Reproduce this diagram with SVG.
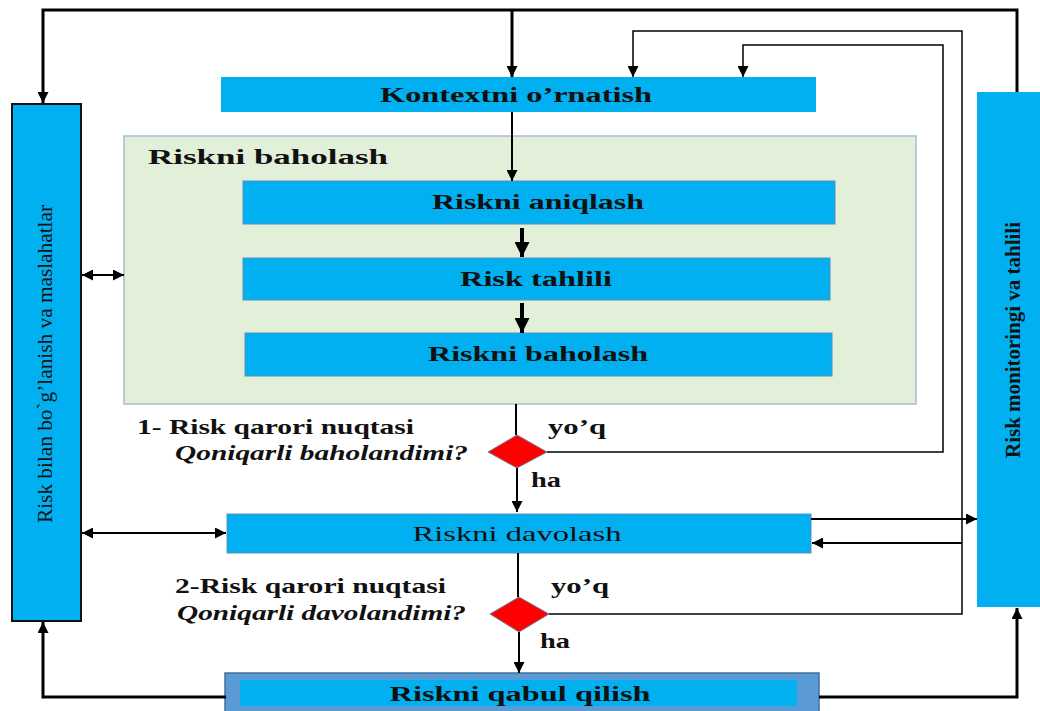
<svg xmlns="http://www.w3.org/2000/svg" width="1040" height="711" viewBox="0 0 1040 711">
  <defs>
    <marker id="ah" viewBox="0 0 10 10" refX="10" refY="5" markerWidth="11" markerHeight="11" markerUnits="userSpaceOnUse" orient="auto-start-reverse">
      <path d="M0,0 L10,5 L0,10 z" fill="#000"/>
    </marker>
    <marker id="ahb" viewBox="0 0 10 10" refX="10" refY="5" markerWidth="15" markerHeight="15" markerUnits="userSpaceOnUse" orient="auto">
      <path d="M0,0 L10,5 L0,10 z" fill="#000"/>
    </marker>
  </defs>
  <style>
    .box{fill:#00b0f0;stroke:#5b8fbf;stroke-width:1}
    .t{font-family:"Liberation Serif","Times New Roman",serif;font-size:22px;font-weight:bold;fill:#111}
    .r{font-weight:normal}
    .it{font-style:italic}
    .m{text-anchor:middle}
    .ln{fill:none;stroke:#000;stroke-width:2}
    .thk{fill:none;stroke:#000;stroke-width:3}
    .thn{fill:none;stroke:#000;stroke-width:1.5}
    .dia{fill:#ff0000;stroke:#6f7f9f;stroke-width:1}
  </style>
  <rect width="1040" height="711" fill="#fff"/>

  <!-- communication and consultation -->
  <g id="communication">
    <rect x="12" y="104" width="69" height="517" fill="#00b0f0" stroke="#111" stroke-width="2"/>
    <text class="t r" font-size="20" text-anchor="middle" transform="translate(52,364) rotate(-90)" textLength="318" lengthAdjust="spacingAndGlyphs">Risk bilan bo`g’lanish va maslahatlar</text>
  </g>

  <!-- monitoring and review -->
  <g id="monitoring">
    <rect x="977" y="92" width="63" height="515" fill="#00b0f0"/>
    <text class="t" font-size="19" text-anchor="middle" transform="translate(1020,340) rotate(-90)" textLength="236" lengthAdjust="spacingAndGlyphs">Risk monitoringi va tahlili</text>
  </g>

  <!-- establishing context -->
  <g id="context">
    <rect x="221" y="77" width="595" height="35" fill="#00b0f0"/>
    <text class="t m" x="516" y="102" textLength="272" lengthAdjust="spacingAndGlyphs">Kontextni o’rnatish</text>
  </g>

  <!-- risk assessment container -->
  <g id="assessment">
    <rect x="124" y="136" width="792" height="268" fill="#e2efd9" stroke="#a9bccf" stroke-width="1.5"/>
    <text class="t" x="148" y="164" textLength="240" lengthAdjust="spacingAndGlyphs">Riskni baholash</text>
  </g>
  <g id="identification">
    <rect class="box" x="243" y="181" width="592" height="43"/>
    <text class="t m" x="538" y="209" textLength="212" lengthAdjust="spacingAndGlyphs">Riskni aniqlash</text>
  </g>
  <g id="analysis">
    <rect class="box" x="243" y="258" width="587" height="42"/>
    <text class="t m" x="536" y="286" textLength="152" lengthAdjust="spacingAndGlyphs">Risk tahlili</text>
  </g>
  <g id="evaluation">
    <rect class="box" x="245" y="333" width="587" height="43"/>
    <text class="t m" x="538" y="361" textLength="220" lengthAdjust="spacingAndGlyphs">Riskni baholash</text>
  </g>

  <!-- decision point 1 -->
  <g id="decision1">
    <polygon class="dia" points="517,435 547,452 517,468 488,452"/>
    <text class="t" font-size="20" x="137" y="434" textLength="277" lengthAdjust="spacingAndGlyphs">1- Risk qarori nuqtasi</text>
    <text class="t it" font-size="20" x="175" y="460" textLength="293" lengthAdjust="spacingAndGlyphs">Qoniqarli baholandimi?</text>
    <text class="t" font-size="20" x="548" y="434" textLength="58" lengthAdjust="spacingAndGlyphs">yo’q</text>
    <text class="t" font-size="20" x="531" y="487" textLength="30" lengthAdjust="spacingAndGlyphs">ha</text>
  </g>

  <!-- risk treatment -->
  <g id="treatment">
    <rect class="box" x="227" y="514" width="584" height="39"/>
    <text class="t r m" x="517" y="541" textLength="209" lengthAdjust="spacingAndGlyphs">Riskni davolash</text>
  </g>

  <!-- decision point 2 -->
  <g id="decision2">
    <polygon class="dia" points="519,597 549,614 519,632 490,614"/>
    <text class="t" font-size="20" x="175" y="593" textLength="271" lengthAdjust="spacingAndGlyphs">2-Risk qarori nuqtasi</text>
    <text class="t it" font-size="20" x="177" y="620" textLength="289" lengthAdjust="spacingAndGlyphs">Qoniqarli davolandimi?</text>
    <text class="t" font-size="20" x="551" y="593" textLength="58" lengthAdjust="spacingAndGlyphs">yo’q</text>
    <text class="t" font-size="20" x="540" y="648" textLength="30" lengthAdjust="spacingAndGlyphs">ha</text>
  </g>

  <!-- risk acceptance -->
  <g id="acceptance">
    <rect x="225" y="673" width="594" height="40" fill="#5b9bd5" stroke="#41719c" stroke-width="1.5"/>
    <rect x="240" y="680" width="557" height="26" fill="#00b0f0"/>
    <text class="t m" x="520" y="701" textLength="261" lengthAdjust="spacingAndGlyphs">Riskni qabul qilish</text>
  </g>

  <!-- connectors, drawn over the boxes -->
  <g id="connectors">
    <!-- top loop from monitoring -->
    <polyline class="thk" points="1017,92 1017,10 43,10 43,103" marker-end="url(#ah)"/>
    <line class="thk" x1="512" y1="10" x2="512" y2="77" marker-end="url(#ah)"/>
    <!-- feedback lines from decision points -->
    <polyline class="thn" points="547,452 943,452 943,45 743,45 743,77" marker-end="url(#ah)"/>
    <polyline class="thn" points="549,614 962,614 962,31 633,31 633,77" marker-end="url(#ah)"/>
    <line class="ln" x1="962" y1="543" x2="812" y2="543" marker-end="url(#ah)"/>
    <line class="ln" x1="811" y1="519" x2="977" y2="519" marker-end="url(#ah)"/>
    <!-- main flow -->
    <line class="ln" x1="512" y1="112" x2="512" y2="181" marker-end="url(#ah)"/>
    <line x1="522" y1="228" x2="522" y2="257" stroke="#000" stroke-width="4" marker-end="url(#ahb)"/>
    <line x1="522" y1="303" x2="522" y2="333" stroke="#000" stroke-width="4" marker-end="url(#ahb)"/>
    <line class="ln" x1="516" y1="404" x2="516" y2="435"/>
    <line class="ln" x1="517" y1="468" x2="517" y2="512" marker-end="url(#ah)"/>
    <line class="ln" x1="518" y1="553" x2="518" y2="597"/>
    <line class="ln" x1="519" y1="632" x2="519" y2="673" marker-end="url(#ah)"/>
    <!-- communication links -->
    <line class="ln" x1="82" y1="275" x2="124" y2="275" marker-start="url(#ah)" marker-end="url(#ah)"/>
    <line class="ln" x1="82" y1="533" x2="226" y2="533" marker-start="url(#ah)" marker-end="url(#ah)"/>
    <!-- acceptance outputs -->
    <polyline class="thk" points="226,697 43,697 43,622" marker-end="url(#ah)"/>
    <polyline class="thk" points="819,697 1017,697 1017,608" marker-end="url(#ah)"/>
  </g>
</svg>
